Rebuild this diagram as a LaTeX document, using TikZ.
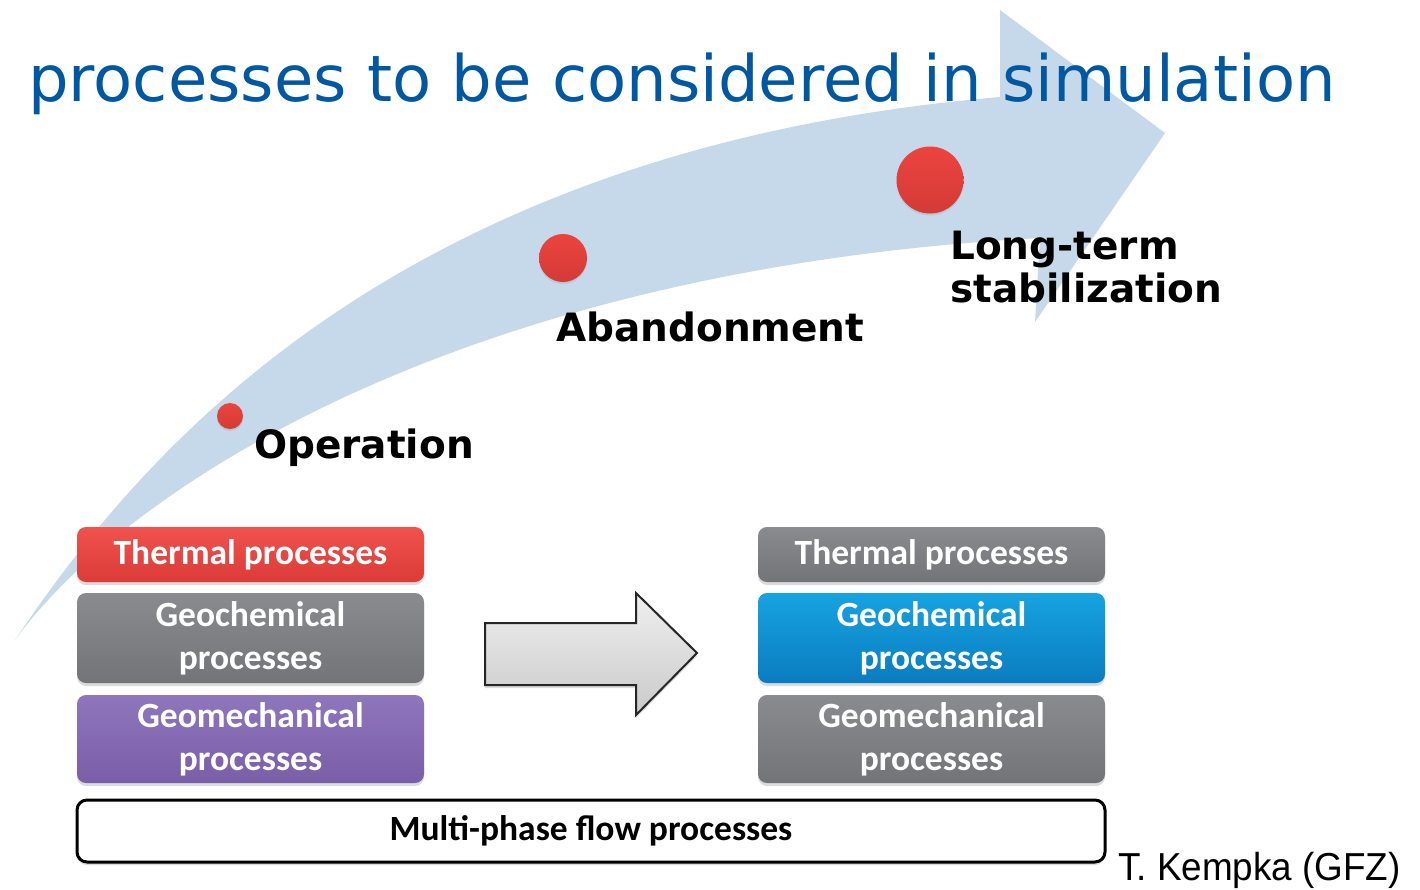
\documentclass[tikz,border=0pt]{standalone}
\usepackage{fontspec}
\setmainfont{DejaVu Sans}
\newfontfamily\labelfont{DejaVu Sans}
\newfontfamily\boxfont{Carlito}
\newfontfamily\creditfont{Liberation Sans}
\usetikzlibrary{shadows}

\definecolor{titleblue}{HTML}{0057A2}
\definecolor{bandblue}{HTML}{C6D9EA}
\definecolor{dotred}{HTML}{EC443F}
\definecolor{dotredD}{HTML}{D43A36}
\definecolor{redT}{HTML}{F0524D}
\definecolor{redB}{HTML}{DC3B37}
\definecolor{grayT}{HTML}{8A8B8E}
\definecolor{grayB}{HTML}{737478}
\definecolor{purpT}{HTML}{8E76BC}
\definecolor{purpB}{HTML}{7A5EA8}
\definecolor{blueT}{HTML}{17A3E0}
\definecolor{blueB}{HTML}{0A7CC0}

\tikzset{
  softshadow/.style={drop shadow={opacity=0.28, shadow xshift=0pt, shadow yshift=-3pt}},
  stagedot/.style={circle, inner sep=0pt, top color=dotred, bottom color=dotredD,
    drop shadow={opacity=0.2, shadow xshift=0pt, shadow yshift=-2pt}},
  stagelabel/.style={inner sep=0pt, anchor=base west, text=black,
    font=\labelfont\bfseries\fontsize{39}{44}\selectfont},
  procbox/.style={rectangle, rounded corners=9pt, inner sep=0pt, minimum width=347pt,
    text=white, align=center, font=\boxfont\bfseries\fontsize{35.5}{43}\selectfont, softshadow},
  redbox/.style={procbox, top color=redT, bottom color=redB},
  graybox/.style={procbox, top color=grayT, bottom color=grayB},
  purplebox/.style={procbox, top color=purpT, bottom color=purpB},
  bluebox/.style={procbox, top color=blueT, bottom color=blueB},
  flowbox/.style={rectangle, rounded corners=10pt, inner sep=0pt, minimum width=1028pt,
    minimum height=62pt, fill=white, draw=black, line width=3pt, text=black,
    font=\boxfont\bfseries\fontsize{35.5}{43}\selectfont, softshadow},
  blockarrow/.style={top color=gray!12, bottom color=gray!42, draw=black!85,
    line width=2pt, line join=miter, softshadow}
}

\begin{document}
\begin{tikzpicture}[x=1pt, y=-1pt]
\useasboundingbox (0,0) rectangle (1420,889);
\fill[white] (0,0) rectangle (1420,889);

% curved timeline arrow: tapered body and head
\fill[bandblue] (15,640) .. controls (130,470) and (380,150) .. (1000,97)
  -- (1000,10) -- (1165,133) -- (1035,322) -- (1040,238)
  .. controls (450,270) and (120,495) .. (15,640) -- cycle;

% heading
\node[anchor=base west, inner sep=0pt, text=titleblue,
      font=\fontsize{64}{70}\selectfont] (title) at (28,101)
      {processes to be considered in simulation};

% stages on the timeline
\node[stagedot, minimum size=26pt] (dop) at (230,416) {};
\node[stagedot, minimum size=48pt] (dab) at (563,258) {};
\node[stagedot, minimum size=67pt] (dlt) at (930,180) {};

\node[stagelabel] (lop) at (254,458) {Operation};
\node[stagelabel] (lab) at (556,341) {Abandonment};
\node[stagelabel] (llt1) at (950,259) {Long-term};
\node[stagelabel] (llt2) at (950,302) {stabilization};

% process stack during operation
\node[redbox, minimum height=55pt] (thL) at (250.5,554.5) {Thermal processes};
\node[graybox, minimum height=90pt] (gcL) at (250.5,638) {Geochemical\\processes};
\node[purplebox, minimum height=88pt] (gmL) at (250.5,739) {Geomechanical\\processes};

% process stack in the long term
\node[graybox, minimum height=55pt] (thR) at (931.5,554.5) {Thermal processes};
\node[bluebox, minimum height=90pt] (gcR) at (931.5,638) {Geochemical\\processes};
\node[graybox, minimum height=88pt] (gmR) at (931.5,739) {Geomechanical\\processes};

% common base
\node[flowbox] (flow) at (591,831) {Multi-phase flow processes};

% transition arrow between the stacks
\filldraw[blockarrow] (485,623) -- (636,623) -- (636,593) -- (697,653)
  -- (636,715) -- (636,685) -- (485,685) -- cycle;

% credit
\node[anchor=base west, inner sep=0pt, font=\creditfont\fontsize{39}{44}\selectfont]
  (credit) at (1118,880) {\scalebox{0.945}[1]{T. Kempka (GFZ)}};
\end{tikzpicture}
\end{document}
